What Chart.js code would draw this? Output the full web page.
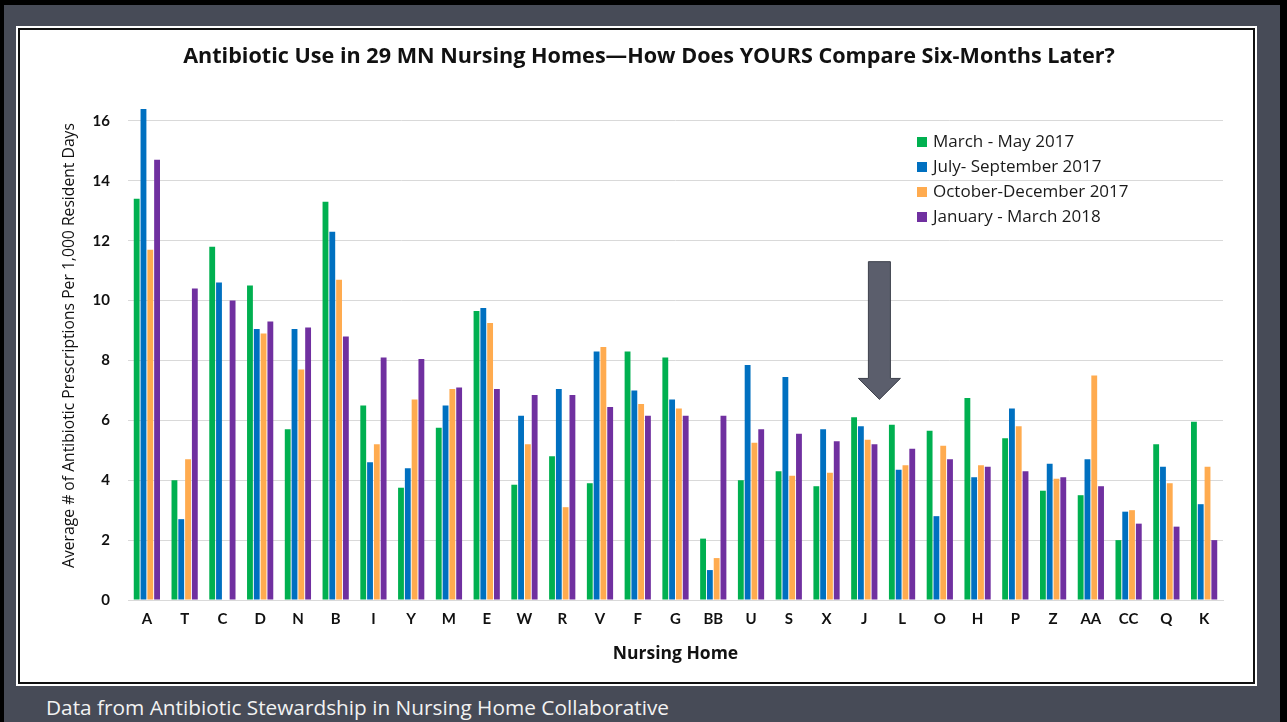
<!DOCTYPE html>
<html>
<head>
<meta charset="utf-8">
<title>Antibiotic Use in 29 MN Nursing Homes</title>
<script src="https://cdn.jsdelivr.net/npm/chart.js@4.4.1/dist/chart.umd.min.js"></script>
<style>
  html, body { margin: 0; padding: 0; }
  body { width: 1287px; height: 722px; background: #000; position: relative; overflow: hidden; font-family: "Open Sans", Lato, sans-serif; }
  #slide { position: absolute; left: 4px; top: 5px; width: 1276px; height: 717px; background: #474b57; }
  #panel { position: absolute; left: 16px; top: 26px; width: 1241px; height: 660px; background: #fff; }
  #frame { position: absolute; left: 2px; top: 2px; right: 2px; bottom: 2px; border: 2px solid #111; }
  #chartBox { position: absolute; left: 20px; top: 30px; width: 1232px; height: 652px; }
  #chartTitle { position: absolute; left: 649px; top: 43px; transform: translateX(-50%); font-size: 21.6px; font-weight: bold; line-height: 24px; color: #111; white-space: nowrap; }
  #legend { position: absolute; left: 917px; top: 129px; font-size: 17px; color: #1a1a1a; }
  #legend div { height: 25px; line-height: 24px; white-space: nowrap; }
  #legend span { display: inline-block; width: 10px; height: 10px; margin-right: 6px; vertical-align: 0px; }
  #footer { position: absolute; left: 46px; top: 693px; font-size: 20.8px; color: #f2f2f2; white-space: nowrap; }
</style>
</head>
<body>
<div id="slide"></div>
<div id="panel"><div id="frame"></div></div>
<div id="chartBox"><canvas id="abxChart"></canvas></div>
<div id="chartTitle">Antibiotic Use in 29 MN Nursing Homes&mdash;How Does YOURS Compare Six-Months Later?</div>
<div id="legend"></div>
<div id="footer">Data from Antibiotic Stewardship in Nursing Home Collaborative</div>
<script>
// nursing homes, in the order shown on the x axis
const homes = ['A', 'T', 'C', 'D', 'N', 'B', 'I', 'Y', 'M', 'E', 'W', 'R', 'V', 'F', 'G',
               'BB', 'U', 'S', 'X', 'J', 'L', 'O', 'H', 'P', 'Z', 'AA', 'CC', 'Q', 'K'];

// average # of antibiotic prescriptions per 1,000 resident days
const marMay2017 = [13.4, 4.0, 11.8, 10.5, 5.7, 13.3, 6.5, 3.75, 5.75, 9.65, 3.85, 4.8, 3.9, 8.3, 8.1,
                    2.05, 4.0, 4.3, 3.8, 6.1, 5.85, 5.65, 6.75, 5.4, 3.65, 3.5, 2.0, 5.2, 5.95];
const julSep2017 = [16.4, 2.7, 10.6, 9.05, 9.05, 12.3, 4.6, 4.4, 6.5, 9.75, 6.15, 7.05, 8.3, 7.0, 6.7,
                    1.0, 7.85, 7.45, 5.7, 5.8, 4.35, 2.8, 4.1, 6.4, 4.55, 4.7, 2.95, 4.45, 3.2];
const octDec2017 = [11.7, 4.7, null, 8.9, 7.7, 10.7, 5.2, 6.7, 7.05, 9.25, 5.2, 3.1, 8.45, 6.55, 6.4,
                    1.4, 5.25, 4.15, 4.25, 5.35, 4.5, 5.15, 4.5, 5.8, 4.05, 7.5, 3.0, 3.9, 4.45];
const janMar2018 = [14.7, 10.4, 10.0, 9.3, 9.1, 8.8, 8.1, 8.05, 7.1, 7.05, 6.85, 6.85, 6.45, 6.15, 6.15,
                    6.15, 5.7, 5.55, 5.3, 5.2, 5.05, 4.7, 4.45, 4.3, 4.1, 3.8, 2.55, 2.45, 2.0];

const seriesNames = ['March - May 2017', 'July- September 2017', 'October-December 2017', 'January - March 2018'];
const seriesColors = ['#00b050', '#0070c0', '#ffab4f', '#7030a0'];

// the grey "you are here" arrow, in axis units (category index / y value)
const arrowMark = { x: 19.4, top: 11.3, headBase: 7.4, tip: 6.7 };

const arrowPlugin = {
  id: 'arrowMark',
  afterDatasetsDraw(chart) {
    const { ctx, scales: { x, y } } = chart;
    const cx = x.getPixelForValue(arrowMark.x);
    const top = y.getPixelForValue(arrowMark.top);
    const base = y.getPixelForValue(arrowMark.headBase);
    const tip = y.getPixelForValue(arrowMark.tip);
    ctx.save();
    ctx.beginPath();
    ctx.moveTo(cx - 11, top);
    ctx.lineTo(cx + 11, top);
    ctx.lineTo(cx + 11, base);
    ctx.lineTo(cx + 21, base);
    ctx.lineTo(cx, tip);
    ctx.lineTo(cx - 21, base);
    ctx.lineTo(cx - 11, base);
    ctx.closePath();
    ctx.fillStyle = '#5b5e6c';
    ctx.fill();
    ctx.strokeStyle = '#3d404b';
    ctx.lineWidth = 1;
    ctx.stroke();
    ctx.restore();
  }
};

const allSeries = [marMay2017, julSep2017, octDec2017, janMar2018];
const datasets = allSeries.map((values, i) => ({
  label: seriesNames[i],
  data: values,
  backgroundColor: seriesColors[i],
  categoryPercentage: 0.72,
  barPercentage: 0.86
}));

const ctx = document.getElementById('abxChart').getContext('2d');
const chart = new Chart(ctx, {
  type: 'bar',
  data: { labels: homes, datasets: datasets },
  plugins: [arrowPlugin],
  options: {
    responsive: true,
    maintainAspectRatio: false,
    animation: false,
    layout: { padding: { left: 0, right: 29, top: 61, bottom: 0 } },
    plugins: {
      legend: { display: false },
      tooltip: { enabled: false },
      title: { display: false }
    },
    scales: {
      x: {
        grid: { display: false, drawTicks: false },
        border: { color: '#d9d9d9' },
        ticks: { color: '#111', font: { family: 'Lato', size: 15, weight: 'bold' }, padding: 10 },
        title: {
          display: true,
          text: 'Nursing Home',
          color: '#111',
          font: { family: 'Open Sans', size: 17.5, weight: 'bold' },
          padding: { top: 0, bottom: 17 }
        },
        afterFit(scale) { scale.height = 82; }
      },
      y: {
        min: 0,
        max: 17,
        grid: { color: '#d9d9d9', drawTicks: false },
        border: { display: false },
        ticks: { stepSize: 2, includeBounds: false, color: '#111', font: { family: 'Lato', size: 15, weight: 'bold' }, padding: 18 },
        title: {
          display: true,
          text: 'Average # of Antibiotic Prescriptions Per 1,000 Resident Days',
          color: '#111',
          font: { family: 'Open Sans', size: 15.7 },
          padding: { top: 40, bottom: 0 }
        },
        afterFit(scale) { scale.width = 108; }
      }
    }
  }
});

// legend drawn as html from the chart's datasets
const legendBox = document.getElementById('legend');
chart.data.datasets.forEach(ds => {
  const row = document.createElement('div');
  const swatch = document.createElement('span');
  swatch.style.background = ds.backgroundColor;
  row.appendChild(swatch);
  row.appendChild(document.createTextNode(ds.label));
  legendBox.appendChild(row);
});
</script>
</body>
</html>
